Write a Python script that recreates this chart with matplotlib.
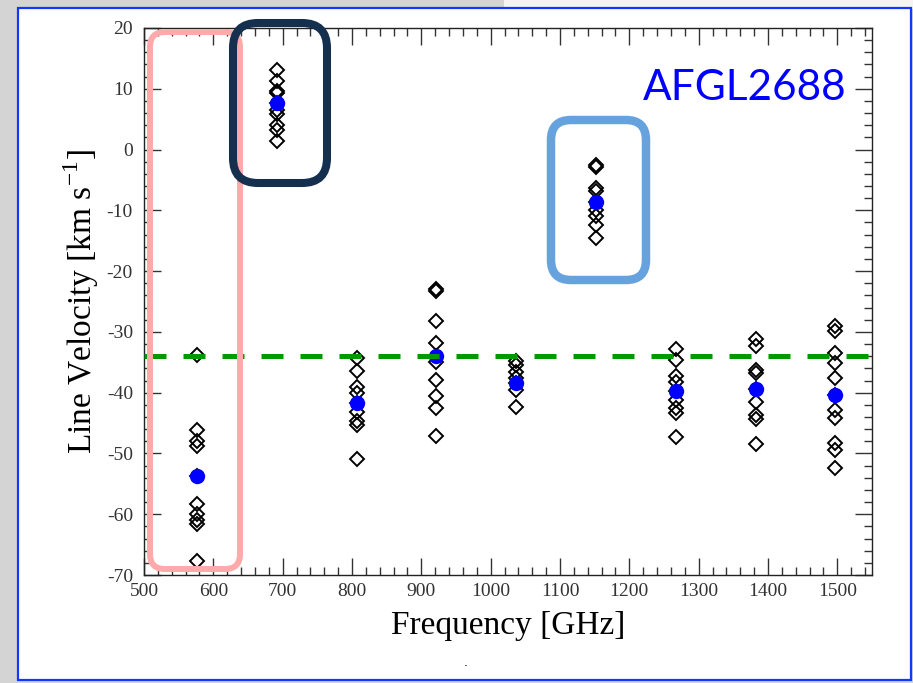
import matplotlib
matplotlib.use("Agg")
import matplotlib.pyplot as plt
from matplotlib.patches import FancyBboxPatch, Rectangle
from matplotlib.ticker import MultipleLocator

plt.rcParams["axes.unicode_minus"] = False

# CO line frequencies (GHz)
freqs = [576.3, 691.5, 806.7, 921.8, 1036.9, 1152.0, 1267.0, 1382.0, 1496.9]

# measured line velocities (km/s) for each transition
v_co54 = [-33.8, -46.1, -48.0, -48.8, -53.7, -58.3, -59.9, -60.9, -61.6, -67.7]
v_co65 = [13.1, 11.2, 9.7, 9.3, 7.6, 6.5, 5.8, 4.0, 3.2, 1.4]
v_co76 = [-34.3, -36.4, -39.0, -40.1, -41.7, -43.1, -44.7, -45.3, -50.9]
v_co87 = [-23.0, -23.3, -28.2, -31.9, -34.0, -34.9, -37.9, -40.6, -42.5, -47.1]
v_co98 = [-34.8, -35.4, -36.6, -37.6, -38.4, -39.5, -42.3]
v_co109 = [-2.5, -2.8, -6.4, -6.9, -8.6, -9.9, -11.0, -12.4, -14.6]
v_co1110 = [-32.8, -34.6, -37.3, -38.2, -39.8, -41.2, -42.5, -43.4, -47.3]
v_co1211 = [-31.2, -32.4, -36.3, -36.8, -39.4, -41.5, -43.7, -44.4, -48.4]
v_co1312 = [-29.1, -29.9, -33.5, -35.2, -37.6, -40.4, -42.8, -44.2, -48.3, -49.4, -52.4]
all_v = [v_co54, v_co65, v_co76, v_co87, v_co98, v_co109, v_co1110, v_co1211, v_co1312]

# average velocity per line and systemic velocity
mean_v = [-53.7, 7.7, -41.7, -34.0, -38.4, -8.6, -39.8, -39.4, -40.4]
v_sys = -34.0

W, H = 913, 683
fig = plt.figure(figsize=(W / 100, H / 100), dpi=100, facecolor="#d4d4d4")

def px_rect(x0, y0, x1, y1):
    # pixel box (origin top-left) -> inches for dpi_scale_trans
    return (x0 / 100, (H - y1) / 100), (x1 - x0) / 100, (y1 - y0) / 100

# slide background: white panel with blue border
xy, w, h = px_rect(504, 0, 913, 9)
fig.add_artist(Rectangle(xy, w, h, transform=fig.dpi_scale_trans, fc="#f4f4f4", ec="none", zorder=-3))
xy, w, h = px_rect(18, 8, 911, 680)
fig.add_artist(Rectangle(xy, w, h, transform=fig.dpi_scale_trans, fc="white", ec="#1437ff", lw=1.6, zorder=-2))

ax = fig.add_axes([144 / W, 1 - 575 / H, (872 - 144) / W, (575 - 28) / H])
ax.set_xlim(500, 1550)
ax.set_ylim(-70, 20)

for f, vs in zip(freqs, all_v):
    ax.plot([f] * len(vs), vs, linestyle="none", marker="D", ms=7, mfc="none",
            mec="black", mew=1.4, zorder=3)
ax.plot(freqs, mean_v, linestyle="none", marker="o", ms=10, color="#0000ff", zorder=4)
ax.axhline(v_sys, color="#009a00", lw=3.6, dashes=(4.4, 3.4), zorder=5)

serif = "Liberation Serif"
ax.xaxis.set_major_locator(MultipleLocator(100))
ax.xaxis.set_minor_locator(MultipleLocator(20))
ax.yaxis.set_major_locator(MultipleLocator(10))
ax.yaxis.set_minor_locator(MultipleLocator(2))
ax.tick_params(which="both", direction="in", top=True, right=True, color="#333333", width=1.0)
ax.tick_params(which="major", length=12.5)
ax.tick_params(which="minor", length=6)
ax.tick_params(axis="y", pad=8, labelsize=14, labelcolor="#333333")
ax.tick_params(axis="x", pad=6, labelsize=14, labelcolor="#333333")
for lab in ax.get_xticklabels() + ax.get_yticklabels():
    lab.set_family(serif)
for s in ax.spines.values():
    s.set_color("#222222")
    s.set_linewidth(1.0)

ax.set_xlabel("Frequency [GHz]", family=serif, fontsize=24, labelpad=7)
ax.set_ylabel("Line Velocity [km s$^{\\mathregular{-1}}$]", family=serif, fontsize=24, labelpad=4)

ax.text(846 / W, 1 - 88 / H, "AFGL2688", transform=fig.transFigure, ha="right", va="center",
        color="#0000ff", fontsize=30.5, family="Lato")

# highlight boxes around the outlying lines
boxes = [
    (150, 32, 240, 569, "#ffaaaa", 4.3, 0.15),
    (233, 23, 327, 183, "#15304f", 5.8, 0.25),
    (551, 120, 646, 280, "#66a2dd", 6.1, 0.20),
]
for x0, y0, x1, y1, col, lw, r in boxes:
    xy, w, h = px_rect(x0, y0, x1, y1)
    fig.add_artist(FancyBboxPatch(xy, w, h, boxstyle=f"round,pad=0,rounding_size={r}",
                                  transform=fig.dpi_scale_trans, fill=False, ec=col, lw=lw, zorder=6))

fig.text(466 / W, 1 - 662 / H, ".", fontsize=9, ha="center", va="center")

fig.savefig("out.png", dpi=100, facecolor=fig.get_facecolor())
